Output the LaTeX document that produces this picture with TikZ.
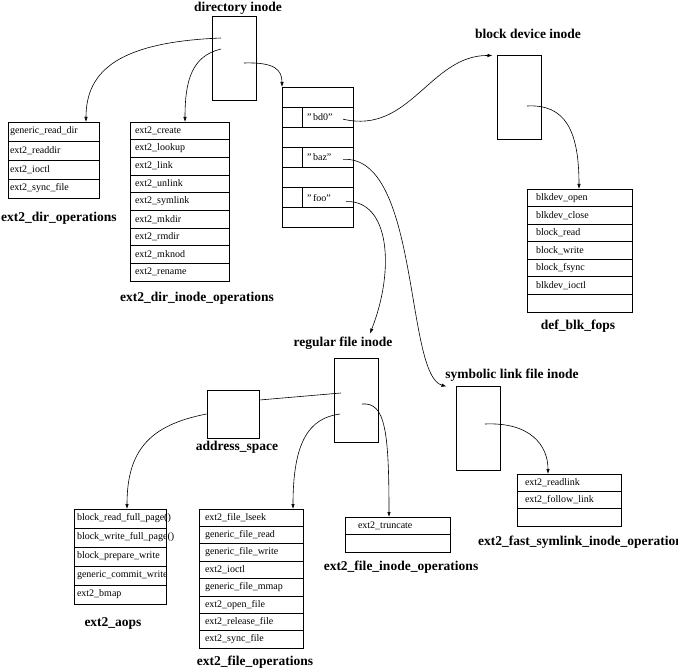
\documentclass[tikz,border=0pt]{standalone}
\usepackage{fontspec}
\setmainfont{Liberation Serif}
\usepackage{tikz}
\usetikzlibrary{arrows.meta, positioning}
\hyphenpenalty=10000
\newcommand{\dq}{\symbol{34}}

\tikzset{
  inode/.style={draw, line width=1pt, minimum width=44pt, minimum height=84pt, inner sep=0pt},
  title/.style={font=\fontsize{13.5}{16}\selectfont\bfseries, inner sep=0pt},
  oprow/.style={draw, line width=0.7pt, align=left, inner ysep=0pt, outer sep=0pt, font=\fontsize{10}{12}\selectfont},
  ptr/.style={-{Latex[length=5pt,width=3.5pt]}, line width=0.6pt},
  dirrow/.style={oprow, text width=87pt, inner xsep=2pt, minimum height=19pt},
  dinrow/.style={oprow, text width=89pt, inner xsep=5pt, minimum height=17.67pt},
  dentrow/.style={oprow, minimum width=71pt, minimum height=20.1pt, inner xsep=0pt},
  dentname/.style={oprow, text width=41pt, inner xsep=5pt, minimum height=20.1pt},
  blkrow/.style={oprow, text width=87pt, inner xsep=9pt, minimum height=17.57pt},
  symrow/.style={oprow, text width=88pt, inner xsep=8pt, minimum height=17.33pt},
  firow/.style={oprow, text width=79pt, inner xsep=13pt, minimum height=17.5pt},
  aopsrow/.style={oprow, text width=86pt, inner xsep=3pt, minimum height=19pt},
  forow/.style={oprow, text width=92pt, inner xsep=6pt, minimum height=17.375pt},
}

\begin{document}
\begin{tikzpicture}[x=1pt, y=-1pt]
        \clip[use as bounding box] (0,0) rectangle (678,671);

        % inodes
        \node[title] (dirname) at (238,8) {directory inode};
        \node[inode] (dirinode) at (234,59) {};
        \node[title] (blkname) at (528,34) {block device inode};
        \node[inode] (blkinode) at (519,98) {};
        \node[title] (regname) at (343,343) {regular file inode};
        \node[inode] (reginode) at (356,400) {};
        \node[title] (symname) at (512,375) {symbolic link file inode};
        \node[inode] (syminode) at (478,428) {};

        % address space
        \node[draw, line width=1pt, minimum width=52pt, minimum height=48pt] (addr) at (233,414) {};
        \node[title] (addrname) at (237,447) {address\_space};

        % ext2_dir_operations
        \node[dirrow, anchor=north west] (dops1) at (8,122) {generic\_read\_dir};
        \node[dirrow, below=0pt of dops1] (dops2) {ext2\_readdir};
        \node[dirrow, below=0pt of dops2] (dops3) {ext2\_ioctl};
        \node[dirrow, below=0pt of dops3] (dops4) {ext2\_sync\_file};
        \node[title, anchor=west] (dopsname) at (1,218) {ext2\_dir\_operations};

        % ext2_dir_inode_operations
        \node[dinrow, anchor=north west] (dins1) at (130,122) {ext2\_create};
        \node[dinrow, below=0pt of dins1] (dins2) {ext2\_lookup};
        \node[dinrow, below=0pt of dins2] (dins3) {ext2\_link};
        \node[dinrow, below=0pt of dins3] (dins4) {ext2\_unlink};
        \node[dinrow, below=0pt of dins4] (dins5) {ext2\_symlink};
        \node[dinrow, below=0pt of dins5] (dins6) {ext2\_mkdir};
        \node[dinrow, below=0pt of dins6] (dins7) {ext2\_rmdir};
        \node[dinrow, below=0pt of dins7] (dins8) {ext2\_mknod};
        \node[dinrow, below=0pt of dins8] (dins9) {ext2\_rename};
        \node[title] (dinsname) at (197,298) {ext2\_dir\_inode\_operations};

        % directory entries
        \node[dentrow, anchor=north west] (dent1) at (282,87) {};
        \node[dentrow, below=0pt of dent1] (dent2) {};
        \node[dentrow, below=0pt of dent2] (dent3) {};
        \node[dentrow, below=0pt of dent3] (dent4) {};
        \node[dentrow, below=0pt of dent4] (dent5) {};
        \node[dentrow, below=0pt of dent5] (dent6) {};
        \node[dentrow, below=0pt of dent6] (dent7) {};
        \node[dentname, anchor=east] (bd0) at (dent2.east) {\dq\,bd0\dq};
        \node[dentname, anchor=east] (baz) at (dent4.east) {\dq\,baz\dq};
        \node[dentname, anchor=east] (foo) at (dent6.east) {\dq\,foo\dq};

        % def_blk_fops
        \node[blkrow, anchor=north west] (blk1) at (527,189) {blkdev\_open};
        \node[blkrow, below=0pt of blk1] (blk2) {blkdev\_close};
        \node[blkrow, below=0pt of blk2] (blk3) {block\_read};
        \node[blkrow, below=0pt of blk3] (blk4) {block\_write};
        \node[blkrow, below=0pt of blk4] (blk5) {block\_fsync};
        \node[blkrow, below=0pt of blk5] (blk6) {blkdev\_ioctl};
        \node[blkrow, below=0pt of blk6] (blk7) {};
        \node[title] (blkopsname) at (578,326) {def\_blk\_fops};

        % ext2_fast_symlink_inode_operations
        \node[symrow, anchor=north west] (sym1) at (517,474) {ext2\_readlink};
        \node[symrow, below=0pt of sym1] (sym2) {ext2\_follow\_link};
        \node[symrow, below=0pt of sym2] (sym3) {};
        \node[title, anchor=west] (symopsname) at (478,542) {ext2\_fast\_symlink\_inode\_operations};

        % ext2_file_inode_operations
        \node[firow, anchor=north west] (fi1) at (345,517) {ext2\_truncate};
        \node[firow, below=0pt of fi1] (fi2) {};
        \node[title] (finame) at (401,567) {ext2\_file\_inode\_operations};

        % ext2_aops
        \node[aopsrow, anchor=north west] (aops1) at (74,509) {block\_read\_full\_page()};
        \node[aopsrow, below=0pt of aops1] (aops2) {block\_write\_full\_page()};
        \node[aopsrow, below=0pt of aops2] (aops3) {block\_prepare\_write};
        \node[aopsrow, below=0pt of aops3] (aops4) {generic\_commit\_write};
        \node[aopsrow, below=0pt of aops4] (aops5) {ext2\_bmap};
        \node[title] (aopsname) at (113,623) {ext2\_aops};

        % ext2_file_operations
        \node[forow, anchor=north west] (fo1) at (199,509) {ext2\_file\_lseek};
        \node[forow, below=0pt of fo1] (fo2) {generic\_file\_read};
        \node[forow, below=0pt of fo2] (fo3) {generic\_file\_write};
        \node[forow, below=0pt of fo3] (fo4) {ext2\_ioctl};
        \node[forow, below=0pt of fo4] (fo5) {generic\_file\_mmap};
        \node[forow, below=0pt of fo5] (fo6) {ext2\_open\_file};
        \node[forow, below=0pt of fo6] (fo7) {ext2\_release\_file};
        \node[forow, below=0pt of fo7] (fo8) {ext2\_sync\_file};
        \node[title] (foname) at (255,662) {ext2\_file\_operations};

        % pointer start points inside the inodes
        \coordinate (dirp1) at (221,38);
        \coordinate (dirp2) at (221,49);
        \coordinate (dirp3) at (244,63);
        \coordinate (blkp) at (527,106);
        \coordinate (regp1) at (341,393);
        \coordinate (regp2) at (340,414);
        \coordinate (regp3) at (362,404);
        \coordinate (symp) at (485,424);

        % directory inode
        \draw[ptr] (dirp1) .. controls (120,42) and (86,70) .. ([xshift=78pt]dops1.north west);
        \draw[ptr] (dirp2) .. controls (192,56) and (185,80) .. ([xshift=55pt]dins1.north west);
        \draw[ptr] (dirp3) .. controls (275,62) and (282,70) .. (dent1.north west);

        % directory entries
        \draw[ptr] ([xshift=-10pt,yshift=-2pt]bd0.east) .. controls (410,135) and (430,55) .. ([xshift=-4pt]blkinode.north west);
        \draw[ptr] ([xshift=-10pt,yshift=-2pt]baz.east) .. controls (420,155) and (405,375) .. ([xshift=-9pt,yshift=-1pt]syminode.north west);
        \draw[ptr] ([xshift=-7pt,yshift=-4pt]foo.east) .. controls (390,200) and (395,270) .. ([xshift=27pt,yshift=3pt]regname.north);

        % block device inode
        \draw[ptr] (blkp) .. controls (565,104) and (579,130) .. ([xshift=52pt]blk1.north west);

        % regular file inode
        \draw[line width=0.6pt] (regp1) -- ([yshift=14pt]addr.east);
        \draw[ptr] (regp2) .. controls (310,418) and (293,440) .. ([xshift=94pt]fo1.north west);
        \draw[ptr] (regp3) .. controls (385,402) and (389,430) .. ([xshift=44pt]fi1.north west);
        \draw[ptr] (addr.west) .. controls (150,425) and (127,450) .. ([xshift=53pt]aops1.north west);

        % symbolic link file inode
        \draw[ptr] (symp) .. controls (530,422) and (548,445) .. ([xshift=31pt]sym1.north west);
    \end{tikzpicture}
\end{document}
